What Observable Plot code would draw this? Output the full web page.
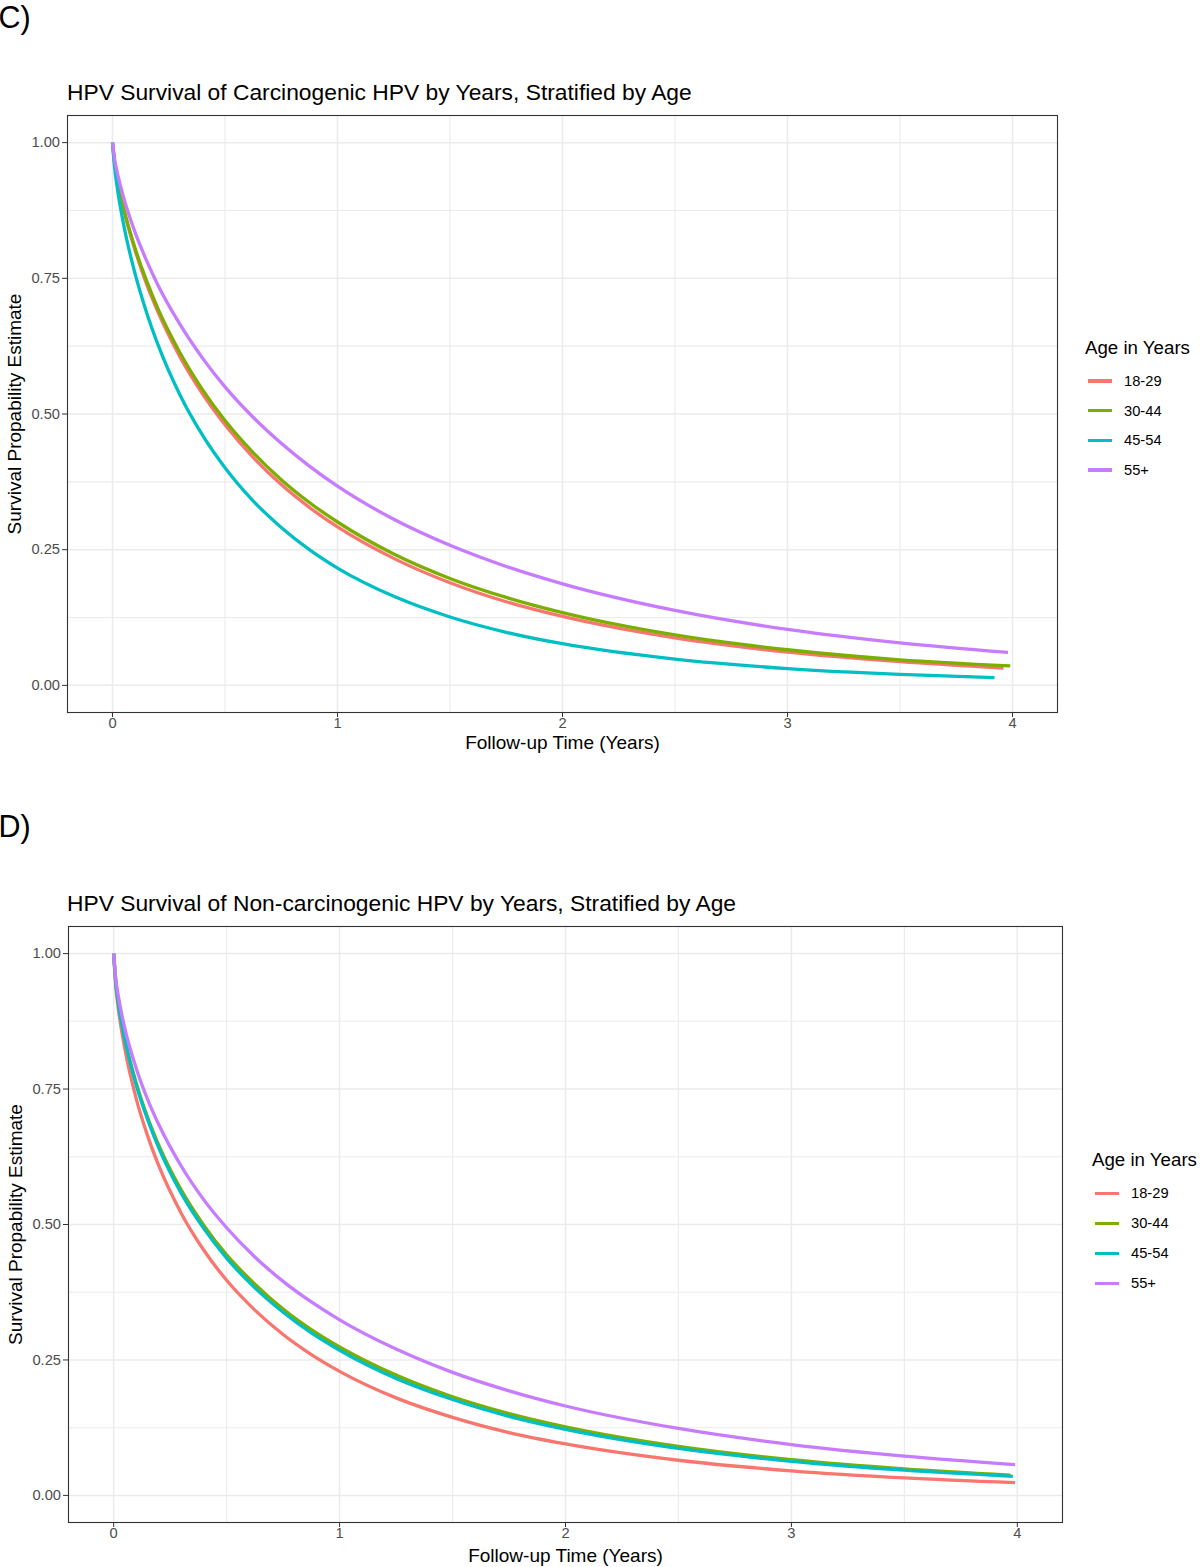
<!DOCTYPE html>
<html>
<head>
<meta charset="utf-8">
<script src="https://cdn.jsdelivr.net/npm/d3@7"></script>
<script src="https://cdn.jsdelivr.net/npm/@observablehq/plot@0.6"></script>
<style>
  body { margin: 0; background: #fff; font-family: "Liberation Sans", Arial, sans-serif; }
  #page { position: relative; width: 1200px; height: 1567px; overflow: hidden; background: #fff; }
  .abs { position: absolute; white-space: nowrap; line-height: 1; color: #000; }
  .panel-label { font-size: 30.5px; }
  .title { font-size: 22.8px; }
  .legend-title { font-size: 18.7px; }
  .legend-item { font-size: 14.7px; }
  .sw { position: absolute; height: 3.4px; }
  .chart { position: absolute; left: 0; }
  svg g[aria-label="x-axis label"] text, svg g[aria-label="y-axis label"] text { font-size: 19px; fill: #000; }
</style>
</head>
<body>
<div id="page"></div>
<script>
// ---- data ----
const ages = ["18-29", "30-44", "45-54", "55+"];
const colors = ["#F8766D", "#7CAE00", "#00BFC4", "#C77CFF"];
const xTicks = [0, 1, 2, 3, 4];
const xMinor = [0.5, 1.5, 2.5, 3.5];
const yTicks = [0, 0.25, 0.5, 0.75, 1];
const yMinor = [0.125, 0.375, 0.625, 0.875];

// follow-up times (years) at which the curves were read
const times = [0, 0.01, 0.02, 0.05, 0.1, 0.15, 0.2, 0.3, 0.4, 0.5, 0.625, 0.75, 0.875, 1, 1.25, 1.5, 1.75, 2, 2.5, 3, 3.5];

// Panel C: carcinogenic HPV (survival estimates)
const c_18_29 = [1, 0.961, 0.935, 0.876, 0.802, 0.741, 0.690, 0.605, 0.537, 0.480, 0.420, 0.370, 0.328, 0.292, 0.234, 0.189, 0.154, 0.127, 0.0875, 0.0613, 0.0437];
const c_30_44 = [1, 0.962, 0.937, 0.879, 0.806, 0.747, 0.696, 0.613, 0.545, 0.488, 0.429, 0.379, 0.337, 0.301, 0.242, 0.197, 0.162, 0.134, 0.0929, 0.0656, 0.0471];
const c_45_54 = [1, 0.952, 0.920, 0.848, 0.759, 0.689, 0.630, 0.535, 0.461, 0.401, 0.340, 0.291, 0.250, 0.216, 0.164, 0.126, 0.0978, 0.0767, 0.0483, 0.031, 0.0203];
const c_55 = [1, 0.968, 0.947, 0.898, 0.835, 0.784, 0.739, 0.665, 0.603, 0.550, 0.494, 0.446, 0.404, 0.367, 0.306, 0.258, 0.219, 0.187, 0.138, 0.103, 0.0782];
const cEndTime = [3.96, 3.99, 3.92, 3.98];
const cEndValue = [0.032, 0.036, 0.0144, 0.0606];

// Panel D: non-carcinogenic HPV (survival estimates)
const d_18_29 = [1, 0.936, 0.900, 0.823, 0.732, 0.664, 0.608, 0.520, 0.452, 0.397, 0.342, 0.297, 0.260, 0.229, 0.180, 0.144, 0.116, 0.0951, 0.0649, 0.0453, 0.0322];
const d_30_44 = [1, 0.944, 0.912, 0.842, 0.761, 0.698, 0.646, 0.563, 0.498, 0.444, 0.390, 0.344, 0.306, 0.274, 0.222, 0.182, 0.151, 0.1265, 0.0904, 0.0659, 0.0489];
const d_45_54 = [1, 0.943, 0.910, 0.840, 0.757, 0.694, 0.641, 0.557, 0.492, 0.438, 0.383, 0.338, 0.300, 0.268, 0.216, 0.177, 0.146, 0.122, 0.0868, 0.063, 0.0465];
const d_55 = [1, 0.951, 0.923, 0.861, 0.788, 0.731, 0.684, 0.607, 0.545, 0.494, 0.440, 0.395, 0.357, 0.324, 0.270, 0.227, 0.193, 0.165, 0.1235, 0.0938, 0.0724];
const dEndTime = [3.99, 3.97, 3.98, 3.99];
const dEndValue = [0.0235, 0.0374, 0.0353, 0.0568];

const titleC = "HPV Survival of Carcinogenic HPV by Years, Stratified by Age";
const titleD = "HPV Survival of Non-carcinogenic HPV by Years, Stratified by Age";
const xLabel = "Follow-up Time (Years)";
const yLabel = "Survival Propability Estimate";
const legendTitle = "Age in Years";

// ---- build tables ----
function buildRows(series, endT, endV) {
  const rows = [];
  series.forEach((vals, i) => {
    times.forEach((t, j) => rows.push({age: ages[i], t, s: vals[j]}));
    rows.push({age: ages[i], t: endT[i], s: endV[i]});
  });
  return rows;
}
const rowsC = buildRows([c_18_29, c_30_44, c_45_54, c_55], cEndTime, cEndValue);
const rowsD = buildRows([d_18_29, d_30_44, d_45_54, d_55], dEndTime, dEndValue);

function makeChart(rows, opts) {
  return Plot.plot({
    width: 1200,
    height: opts.height,
    marginLeft: opts.left,
    marginRight: 1200 - opts.right,
    marginTop: opts.top,
    marginBottom: opts.bottom,
    x: {domain: [-0.2, 4.2]},
    y: {domain: [-0.05, 1.05]},
    color: {domain: ages, range: colors},
    style: {fontFamily: "'Liberation Sans', Arial, sans-serif", fontSize: "14.7px", color: "#4d4d4d", background: "transparent", overflow: "visible"},
    marks: [
      Plot.gridX(xMinor, {stroke: "#ebebeb", strokeOpacity: 1, strokeWidth: 1.1}),
      Plot.gridY(yMinor, {stroke: "#ebebeb", strokeOpacity: 1, strokeWidth: 1.1}),
      Plot.gridX(xTicks, {stroke: "#ebebeb", strokeOpacity: 1, strokeWidth: 1.5}),
      Plot.gridY(yTicks, {stroke: "#ebebeb", strokeOpacity: 1, strokeWidth: 1.5}),
      Plot.line(rows, {x: "t", y: "s", z: "age", stroke: "age", strokeWidth: 3.3, curve: "monotone-x", strokeLinecap: "butt"}),
      Plot.frame({stroke: "#333333", strokeWidth: 1.1}),
      Plot.axisX(xTicks, {tickSize: 5, tickPadding: 0, stroke: "#333333", tickFormat: d => String(d),
        label: xLabel, labelAnchor: "center", labelOffset: opts.xLabelOffset, labelArrow: "none"}),
      Plot.axisY(yTicks, {tickSize: 5, tickPadding: 2.5, stroke: "#333333", tickFormat: d3.format(".2f"),
        label: yLabel, labelAnchor: "center", labelOffset: 60, labelArrow: "none"})
    ]
  });
}

const page = document.getElementById("page");
function addText(text, cls, left, top) {
  const d = document.createElement("div");
  d.className = "abs " + cls;
  d.textContent = text;
  d.style.left = left + "px";
  d.style.top = top + "px";
  page.appendChild(d);
}
function addLegend(x0, titleTop, swX, swW, labX, centers) {
  addText(legendTitle, "legend-title", x0, titleTop);
  ages.forEach((a, i) => {
    const sw = document.createElement("div");
    sw.className = "sw";
    sw.style.left = swX + "px";
    sw.style.width = swW + "px";
    sw.style.top = (centers[i] - 1.7) + "px";
    sw.style.background = colors[i];
    page.appendChild(sw);
    addText(a, "legend-item", labX, centers[i] + 5.3 - 12.44);
  });
}

// Panel C
addText("C)", "panel-label", -1.5, 1.5);
addText(titleC, "title", 67, 80.7);
const cWrap = document.createElement("div");
cWrap.className = "chart";
cWrap.style.top = "105px";
cWrap.appendChild(makeChart(rowsC, {height: 655, left: 67, right: 1057, top: 10, bottom: 48, xLabelOffset: 36}));
page.appendChild(cWrap);
addLegend(1085, 339, 1088, 24, 1124, [381, 410.7, 440.2, 470]);

// Panel D
addText("D)", "panel-label", -1.5, 810.8);
addText(titleD, "title", 67, 892.2);
const dWrap = document.createElement("div");
dWrap.className = "chart";
dWrap.style.top = "916px";
dWrap.appendChild(makeChart(rowsD, {height: 651, left: 68, right: 1062, top: 10, bottom: 45, xLabelOffset: 39}));
page.appendChild(dWrap);
addLegend(1092, 1151, 1095, 24, 1131, [1193.3, 1223.3, 1253.3, 1283.3]);
</script>
</body>
</html>
